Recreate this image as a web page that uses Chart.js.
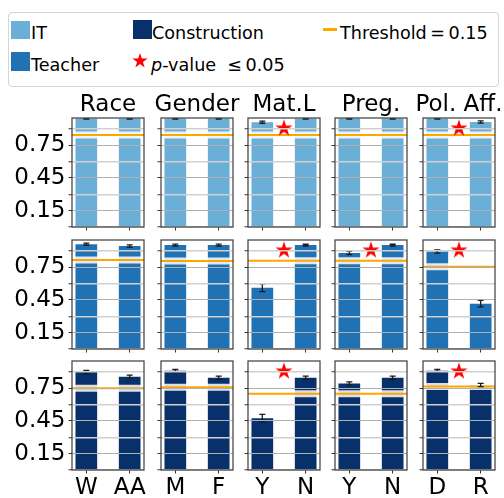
<!DOCTYPE html>
<html>
<head>
<meta charset="utf-8">
<script src="https://cdn.jsdelivr.net/npm/chart.js@4.4.0/dist/chart.umd.min.js"></script>
<style>
  html, body { margin: 0; padding: 0; background: #fff; }
  #page { position: relative; width: 504px; height: 498px; overflow: hidden; font-family: 'DejaVu Sans', sans-serif; }
  #page canvas { position: absolute; }
  #legendBox { position: absolute; left: 8px; top: 12px; width: 489px; height: 73px; border: 1px solid #d5d5d5; border-radius: 4px; }
  .lg { position: absolute; font-size: 17.6px; line-height: 18px; white-space: nowrap; color: #000; }
  .patch { position: absolute; width: 19px; height: 18px; }
</style>
</head>
<body>
<div id="page">
  <div id="legendBox"></div>
  <div class="patch" style="left:11px;top:21px;background:#6baed6"></div>
  <div class="lg" style="left:31px;top:24px">IT</div>
  <div class="patch" style="left:11px;top:52px;height:19px;background:#2171b5"></div>
  <div class="lg" style="left:31px;top:56px">Teacher</div>
  <div class="patch" style="left:133px;top:20px;height:19px;background:#08306b"></div>
  <div class="lg" style="left:152px;top:24px">Construction</div>
  <canvas id="legendStar" width="20" height="20" style="left:130px;top:51px"></canvas>
  <div class="lg" style="left:151px;top:56px"><i>p</i>-value&nbsp; ≤&thinsp;0.05</div>
  <div style="position:absolute;left:323px;top:28px;width:14px;height:2.5px;background:#ffa500"></div>
  <div class="lg" style="left:340px;top:24px">Threshold&thinsp;=&thinsp;0.15</div>
</div>
<script>
// panel layout
const groups = ['Race', 'Gender', 'Mat.L', 'Preg.', 'Pol. Aff.'];
const groupLabels = [['W', 'AA'], ['M', 'F'], ['Y', 'N'], ['Y', 'N'], ['D', 'R']];
const occupations = ['IT', 'Teacher', 'Construction'];

// IT row
const itValues = [[0.995, 0.995], [0.995, 0.995], [0.962, 0.995], [0.995, 0.995], [0.995, 0.963]];
const itErrors = [[0.004, 0.004], [0.004, 0.004], [0.01, 0.004], [0.004, 0.004], [0.004, 0.01]];
const itThresholds = [0.845, 0.845, 0.845, 0.845, 0.845];
const itSignificant = [false, false, true, false, true];

// Teacher row
const teacherValues = [[0.962, 0.944], [0.953, 0.953], [0.562, 0.953], [0.88, 0.953], [0.895, 0.416]];
const teacherErrors = [[0.01, 0.012], [0.01, 0.01], [0.035, 0.008], [0.015, 0.008], [0.015, 0.03]];
const teacherThresholds = [0.816, 0.807, 0.81, 0.81, 0.755];
const teacherSignificant = [false, false, true, true, true];

// Construction row
const constructionValues = [[0.898, 0.856], [0.91, 0.847], [0.475, 0.847], [0.793, 0.847], [0.91, 0.78]];
const constructionErrors = [[0.015, 0.015], [0.012, 0.015], [0.035, 0.015], [0.015, 0.015], [0.012, 0.015]];
const constructionThresholds = [0.75, 0.76, 0.70, 0.70, 0.765];
const constructionSignificant = [false, false, true, false, true];

const starLevel = 0.905;
const yTicks = [0, 0.15, 0.3, 0.45, 0.6, 0.75, 0.9];
const yLabelled = [0.15, 0.45, 0.75];

const rows = [
  { values: itValues, errors: itErrors, thresholds: itThresholds, significant: itSignificant, color: '#6baed6' },
  { values: teacherValues, errors: teacherErrors, thresholds: teacherThresholds, significant: teacherSignificant, color: '#2171b5' },
  { values: constructionValues, errors: constructionErrors, thresholds: constructionThresholds, significant: constructionSignificant, color: '#08306b' }
];

const FONT = "'DejaVu Sans', sans-serif";
const BIG = 23;
Chart.defaults.font.family = FONT;

const xMin = -0.33, xMax = 1.33;
const plotLeft = [72, 161, 248, 335, 423];
const plotTop = [118, 240, 361];
const plotW = 72, plotH = 109;

function makeStar(r) {
  const c = document.createElement('canvas');
  const s = Math.ceil(2 * r + 2);
  c.width = s; c.height = s;
  drawStar(c.getContext('2d'), s / 2, s / 2, r);
  return c;
}
function drawStar(g, cx, cy, r) {
  g.fillStyle = '#ff0000';
  g.beginPath();
  for (let i = 0; i < 10; i++) {
    const rad = i % 2 ? r * 0.382 : r;
    const a = -Math.PI / 2 + i * Math.PI / 5;
    g.lineTo(cx + rad * Math.cos(a), cy + rad * Math.sin(a));
  }
  g.closePath();
  g.fill();
}
drawStar(document.getElementById('legendStar').getContext('2d'), 10, 10, 8);
const starImg = makeStar(9);

const errorBars = {
  id: 'errorBars',
  afterDatasetsDraw(chart) {
    const ctx = chart.ctx, y = chart.scales.y, a = chart.chartArea;
    ctx.save();
    ctx.beginPath();
    ctx.rect(a.left, a.top, a.right - a.left, a.bottom - a.top);
    ctx.clip();
    ctx.strokeStyle = '#1a1a1a';
    ctx.lineWidth = 1.3;
    chart.data.datasets.forEach((ds, i) => {
      if (!ds.errors) return;
      chart.getDatasetMeta(i).data.forEach((bar, j) => {
        const v = ds.data[j].y, e = ds.errors[j];
        const y1 = y.getPixelForValue(v - e), y2 = y.getPixelForValue(v + e);
        ctx.beginPath();
        ctx.moveTo(bar.x, y1); ctx.lineTo(bar.x, y2);
        ctx.moveTo(bar.x - 3, y1); ctx.lineTo(bar.x + 3, y1);
        ctx.moveTo(bar.x - 3, y2); ctx.lineTo(bar.x + 3, y2);
        ctx.stroke();
      });
    });
    ctx.restore();
  }
};

const frame = {
  id: 'frame',
  afterDraw(chart) {
    const a = chart.chartArea, ctx = chart.ctx;
    ctx.save();
    ctx.strokeStyle = '#444';
    ctx.lineWidth = 1.25;
    ctx.strokeRect(a.left, a.top, a.right - a.left, a.bottom - a.top);
    ctx.restore();
  }
};

const page = document.getElementById('page');

rows.forEach((row, r) => {
  groups.forEach((group, c) => {
    const padL = c === 0 ? 72 : 14;
    const padR = padL;
    const padT = r === 0 ? 28 : 6;
    const padB = r === 2 ? 28 : 8;
    const cv = document.createElement('canvas');
    cv.width = padL + plotW + padR;
    cv.height = padT + plotH + padB;
    cv.style.left = (plotLeft[c] - padL) + 'px';
    cv.style.top = (plotTop[r] - padT) + 'px';
    page.appendChild(cv);

    const t = row.thresholds[c];
    const lineData = [{ x: xMin, y: t }, { x: xMax, y: t }];

    new Chart(cv, {
      type: 'bar',
      data: {
        datasets: [
          { type: 'line', data: row.significant[c] ? [{ x: 0.5, y: starLevel }] : [],
            showLine: false, pointStyle: starImg, pointRadius: 9, order: 0 },
          { type: 'line', data: lineData, borderColor: '#ffa500', borderWidth: 2, pointRadius: 0, order: 1 },
          { type: 'line', data: lineData, borderColor: 'rgba(255,255,255,0.85)', borderWidth: 7, pointRadius: 0, order: 2 },
          { type: 'bar', label: occupations[r],
            data: row.values[c].map((v, i) => ({ x: i, y: v })),
            errors: row.errors[c], backgroundColor: row.color, borderWidth: 0,
            categoryPercentage: 1, barPercentage: 0.5, order: 3 }
        ]
      },
      options: {
        responsive: false,
        animation: false,
        events: [],
        layout: { autoPadding: false, padding: { left: 0, right: 0, top: r === 0 ? 0 : padT, bottom: 0 } },
        plugins: {
          legend: { display: false },
          tooltip: { enabled: false },
          title: { display: r === 0, text: group, color: '#000',
                   font: { family: FONT, size: BIG, weight: 'normal', lineHeight: '26px' }, padding: { top: 2, bottom: 0 } }
        },
        scales: {
          x: {
            type: 'linear', min: xMin, max: xMax, offset: false,
            afterBuildTicks: s => { s.ticks = [0, 1].map(v => ({ value: v })); },
            afterFit: s => { s.height = padB; s.paddingLeft = 0; s.paddingRight = 0; },
            grid: { display: true, drawOnChartArea: false, drawTicks: true, tickLength: 3.5, tickColor: '#333', tickWidth: 1, offset: false },
            border: { display: false },
            ticks: { display: r === 2, autoSkip: false, maxRotation: 0, padding: 1, color: '#000',
                     font: { family: FONT, size: BIG }, callback: v => groupLabels[c][v] }
          },
          y: {
            min: 0, max: 1.0,
            afterBuildTicks: s => { s.ticks = yTicks.map(v => ({ value: v })); },
            afterFit: s => { s.width = padL; s.paddingTop = 0; s.paddingBottom = 0; },
            grid: {
              z: 1,
              color: ctx => yLabelled.includes(ctx.tick.value) ? '#b0b0b0' : '#d0d0d0',
              lineWidth: ctx => yLabelled.includes(ctx.tick.value) ? 1 : 1.5,
              drawTicks: true, tickLength: 3.5, tickColor: '#333', tickWidth: 1
            },
            border: { display: false },
            ticks: { display: c === 0, autoSkip: false, padding: 3, color: '#000', font: { family: FONT, size: BIG },
                     callback: v => yLabelled.includes(v) ? v.toFixed(2) : '' }
          },
          yRight: {
            position: 'right', display: true,
            grid: { display: false }, ticks: { display: false }, border: { display: false },
            afterFit: s => { s.width = padR; s.paddingTop = 0; s.paddingBottom = 0; }
          }
        }
      },
      plugins: [errorBars, frame]
    });
  });
});
</script>
</body>
</html>
